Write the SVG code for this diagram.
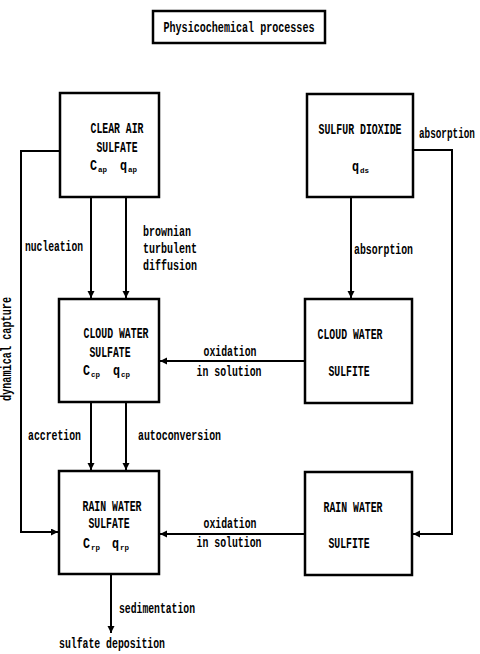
<svg xmlns="http://www.w3.org/2000/svg" width="480" height="654" viewBox="0 0 480 654">
<defs>
<style>
.box{fill:none;stroke:#000;stroke-width:2.5}
.ln{fill:none;stroke:#000;stroke-width:2}
text{font-family:"Liberation Mono","DejaVu Sans Mono",monospace;font-weight:bold;font-size:14px;fill:#000}
.m{text-anchor:middle}
.sub{font-size:8px}
</style>
<marker id="ah" markerUnits="userSpaceOnUse" markerWidth="8" markerHeight="8" refX="7" refY="3.5" orient="auto">
<path d="M0,0 L7,3.5 L0,7 z" fill="#000"/>
</marker>
</defs>
<rect width="480" height="654" fill="#fff"/>

<g id="title">
<rect class="box" x="153" y="11" width="172" height="32"/>
<text class="m" x="239" y="32" textLength="151" lengthAdjust="spacingAndGlyphs">Physicochemical processes</text>
</g>

<g id="clear-air-sulfate">
<rect class="box" x="60" y="93" width="99" height="104"/>
<text class="m" x="117" y="133" textLength="53" lengthAdjust="spacingAndGlyphs">CLEAR AIR</text>
<text class="m" x="117" y="152" textLength="41" lengthAdjust="spacingAndGlyphs">SULFATE</text>
<text x="90" y="170" textLength="7" lengthAdjust="spacingAndGlyphs">C</text>
<text class="sub" x="98" y="172" textLength="9" lengthAdjust="spacingAndGlyphs">ap</text>
<text x="120" y="170" textLength="7" lengthAdjust="spacingAndGlyphs">q</text>
<text class="sub" x="128" y="172" textLength="9" lengthAdjust="spacingAndGlyphs">ap</text>
</g>

<g id="sulfur-dioxide">
<rect class="box" x="307" y="94" width="106" height="103"/>
<text class="m" transform="translate(360,134) scale(0.706,1)" x="0" y="0">SULFUR DIOXIDE</text>
<text x="352" y="171" textLength="7" lengthAdjust="spacingAndGlyphs">q</text>
<text class="sub" x="360" y="173" textLength="9" lengthAdjust="spacingAndGlyphs">ds</text>
</g>

<g id="cloud-water-sulfate">
<rect class="box" x="59" y="299" width="100" height="103"/>
<text class="m" x="116" y="338" textLength="65" lengthAdjust="spacingAndGlyphs">CLOUD WATER</text>
<text class="m" x="110" y="357" textLength="41" lengthAdjust="spacingAndGlyphs">SULFATE</text>
<text x="83" y="375" textLength="7" lengthAdjust="spacingAndGlyphs">C</text>
<text class="sub" x="91" y="377" textLength="9" lengthAdjust="spacingAndGlyphs">cp</text>
<text x="113" y="375" textLength="7" lengthAdjust="spacingAndGlyphs">q</text>
<text class="sub" x="121" y="377" textLength="9" lengthAdjust="spacingAndGlyphs">cp</text>
</g>

<g id="cloud-water-sulfite">
<rect class="box" x="305" y="299" width="107" height="104"/>
<text class="m" x="350" y="339" textLength="65" lengthAdjust="spacingAndGlyphs">CLOUD WATER</text>
<text class="m" x="349" y="376" textLength="41" lengthAdjust="spacingAndGlyphs">SULFITE</text>
</g>

<g id="rain-water-sulfate">
<rect class="box" x="59" y="471" width="100" height="103"/>
<text class="m" x="112" y="511" textLength="59" lengthAdjust="spacingAndGlyphs">RAIN WATER</text>
<text class="m" x="109" y="528" textLength="41" lengthAdjust="spacingAndGlyphs">SULFATE</text>
<text x="83" y="548" textLength="7" lengthAdjust="spacingAndGlyphs">C</text>
<text class="sub" x="91" y="550" textLength="9" lengthAdjust="spacingAndGlyphs">rp</text>
<text x="112" y="548" textLength="7" lengthAdjust="spacingAndGlyphs">q</text>
<text class="sub" x="120" y="550" textLength="9" lengthAdjust="spacingAndGlyphs">rp</text>
</g>

<g id="rain-water-sulfite">
<rect class="box" x="305" y="472" width="107" height="103"/>
<text class="m" x="353" y="512" textLength="59" lengthAdjust="spacingAndGlyphs">RAIN WATER</text>
<text class="m" x="349" y="548" textLength="41" lengthAdjust="spacingAndGlyphs">SULFITE</text>
</g>

<g id="connectors">
<path class="ln" d="M91,197 V298" marker-end="url(#ah)"/>
<path class="ln" d="M126,197 V298" marker-end="url(#ah)"/>
<path class="ln" d="M91,402 V470" marker-end="url(#ah)"/>
<path class="ln" d="M126,402 V470" marker-end="url(#ah)"/>
<path class="ln" d="M60,151 H21 V532 H58" marker-end="url(#ah)"/>
<path class="ln" d="M351,197 V298" marker-end="url(#ah)"/>
<path class="ln" d="M413,150 H452 V534 H413" marker-end="url(#ah)"/>
<path class="ln" d="M305,361 H160" marker-end="url(#ah)"/>
<path class="ln" d="M305,534 H160" marker-end="url(#ah)"/>
<path class="ln" d="M111,574 V633" marker-end="url(#ah)"/>
</g>

<g id="labels">
<text x="25" y="251" textLength="58" lengthAdjust="spacingAndGlyphs">nucleation</text>
<text x="143" y="236" textLength="48" lengthAdjust="spacingAndGlyphs">brownian</text>
<text x="143" y="253" textLength="54" lengthAdjust="spacingAndGlyphs">turbulent</text>
<text x="143" y="270" textLength="54" lengthAdjust="spacingAndGlyphs">diffusion</text>
<text transform="translate(419,138) scale(0.667,1)" x="0" y="0">absorption</text>
<text x="354" y="254" textLength="59" lengthAdjust="spacingAndGlyphs">absorption</text>
<text x="28" y="440" textLength="53" lengthAdjust="spacingAndGlyphs">accretion</text>
<text x="138" y="440" textLength="83" lengthAdjust="spacingAndGlyphs">autoconversion</text>
<text class="m" x="230" y="356" textLength="53" lengthAdjust="spacingAndGlyphs">oxidation</text>
<text class="m" x="229" y="376" textLength="65" lengthAdjust="spacingAndGlyphs">in solution</text>
<text class="m" x="230" y="528" textLength="53" lengthAdjust="spacingAndGlyphs">oxidation</text>
<text class="m" x="229" y="547" textLength="65" lengthAdjust="spacingAndGlyphs">in solution</text>
<text x="119" y="613" textLength="76" lengthAdjust="spacingAndGlyphs">sedimentation</text>
<text class="m" x="112" y="648" textLength="106" lengthAdjust="spacingAndGlyphs">sulfate deposition</text>
<text class="m" transform="translate(11,349) rotate(-90)" x="0" y="0" textLength="104" lengthAdjust="spacingAndGlyphs">dynamical capture</text>
</g>
</svg>
